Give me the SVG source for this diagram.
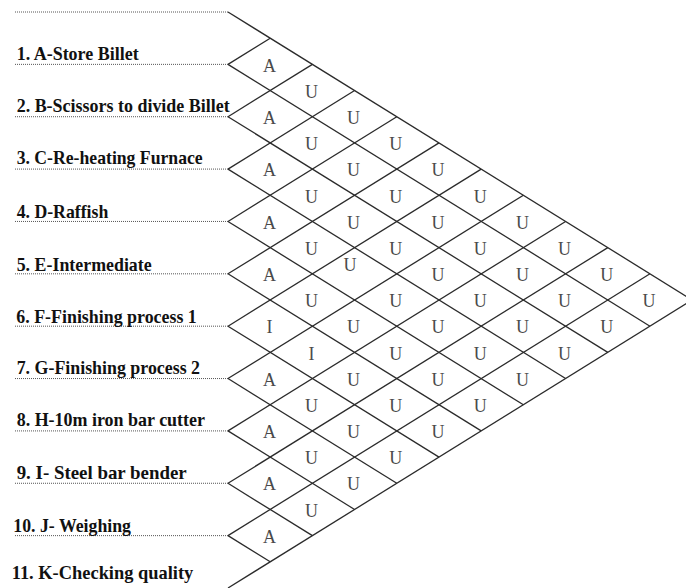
<svg xmlns="http://www.w3.org/2000/svg" width="686" height="588" viewBox="0 0 686 588">
  <style>
    .grid line { stroke: #2b2b2b; stroke-width: 1.3; fill: none; }
    .lead { stroke: #555; stroke-width: 1; stroke-dasharray: 1 1; }
    .dept { font-family: "Liberation Serif", "Times New Roman", serif; font-weight: bold; font-size: 19.5px; fill: #111111; }
    .rel { font-family: "Liberation Serif", "Times New Roman", serif; font-size: 18px; fill: #4a4a4a; text-anchor: middle; }
  </style>
  <rect width="686" height="588" fill="#ffffff"/>

  <!-- dotted leader lines from each label to the chart's left edge -->
  <g id="leaders">
    <line class="lead" x1="15" y1="12" x2="228" y2="12"/>
    <line class="lead" x1="15" y1="64.36" x2="228" y2="64.36"/>
    <line class="lead" x1="15" y1="116.73" x2="228" y2="116.73"/>
    <line class="lead" x1="15" y1="169.09" x2="228" y2="169.09"/>
    <line class="lead" x1="15" y1="221.45" x2="228" y2="221.45"/>
    <line class="lead" x1="15" y1="273.82" x2="228" y2="273.82"/>
    <line class="lead" x1="15" y1="326.18" x2="228" y2="326.18"/>
    <line class="lead" x1="15" y1="378.55" x2="228" y2="378.55"/>
    <line class="lead" x1="15" y1="430.91" x2="228" y2="430.91"/>
    <line class="lead" x1="15" y1="483.27" x2="228" y2="483.27"/>
    <line class="lead" x1="15" y1="535.64" x2="228" y2="535.64"/>
  </g>

  <!-- department labels (condensed bold serif) -->
  <g id="dept-A"><text class="dept" x="16.7" y="59.5" textLength="122" lengthAdjust="spacingAndGlyphs">1. A-Store Billet</text></g>
  <g id="dept-B"><text class="dept" x="16.7" y="112" textLength="213" lengthAdjust="spacingAndGlyphs">2. B-Scissors to divide Billet</text></g>
  <g id="dept-C"><text class="dept" x="16.7" y="164" textLength="186" lengthAdjust="spacingAndGlyphs">3. C-Re-heating Furnace</text></g>
  <g id="dept-D"><text class="dept" x="16.7" y="218" textLength="91.6" lengthAdjust="spacingAndGlyphs">4. D-Raffish</text></g>
  <g id="dept-E"><text class="dept" x="16.7" y="270.5" textLength="135" lengthAdjust="spacingAndGlyphs">5. E-Intermediate</text></g>
  <g id="dept-F"><text class="dept" x="16.3" y="323" textLength="180.5" lengthAdjust="spacingAndGlyphs">6. F-Finishing process 1</text></g>
  <g id="dept-G"><text class="dept" x="16.7" y="373.5" textLength="183.3" lengthAdjust="spacingAndGlyphs">7. G-Finishing process 2</text></g>
  <g id="dept-H"><text class="dept" x="16.7" y="426" textLength="188.3" lengthAdjust="spacingAndGlyphs">8. H-10m iron bar cutter</text></g>
  <g id="dept-I"><text class="dept" x="16.7" y="479" textLength="170" lengthAdjust="spacingAndGlyphs">9. I- Steel bar bender</text></g>
  <g id="dept-J"><text class="dept" x="13.3" y="531.5" textLength="117.7" lengthAdjust="spacingAndGlyphs">10. J- Weighing</text></g>
  <g id="dept-K"><text class="dept" x="11.7" y="579" textLength="181.6" lengthAdjust="spacingAndGlyphs">11. K-Checking quality</text></g>

  <!-- diamond grid: one down-right and one up-right line per edge point -->
  <g id="connectors" class="grid">
    <line x1="228" y1="12" x2="692.2" y2="300"/>
    <line x1="228" y1="64.36" x2="650" y2="326.18"/>
    <line x1="228" y1="116.73" x2="607.8" y2="352.36"/>
    <line x1="228" y1="169.09" x2="565.6" y2="378.55"/>
    <line x1="228" y1="221.45" x2="523.4" y2="404.73"/>
    <line x1="228" y1="273.82" x2="481.2" y2="430.91"/>
    <line x1="228" y1="326.18" x2="439" y2="457.09"/>
    <line x1="228" y1="378.55" x2="396.8" y2="483.27"/>
    <line x1="228" y1="430.91" x2="354.6" y2="509.45"/>
    <line x1="228" y1="483.27" x2="312.4" y2="535.64"/>
    <line x1="228" y1="535.64" x2="270.2" y2="561.82"/>

    <line x1="228" y1="64.36" x2="270.2" y2="38.18"/>
    <line x1="228" y1="116.73" x2="312.4" y2="64.36"/>
    <line x1="228" y1="169.09" x2="354.6" y2="90.55"/>
    <line x1="228" y1="221.45" x2="396.8" y2="116.73"/>
    <line x1="228" y1="273.82" x2="439" y2="142.91"/>
    <line x1="228" y1="326.18" x2="481.2" y2="169.09"/>
    <line x1="228" y1="378.55" x2="523.4" y2="195.27"/>
    <line x1="228" y1="430.91" x2="565.6" y2="221.45"/>
    <line x1="228" y1="483.27" x2="607.8" y2="247.64"/>
    <line x1="228" y1="535.64" x2="650" y2="273.82"/>
    <line x1="228" y1="588" x2="692.2" y2="300"/>
  </g>

  <!-- relationship codes; cell (a,b) sits at x = 228 + 42.2*(b-a), y = 38.18 + 26.18*(a+b-2) -->
  <g id="cells" class="rel">
    <!-- adjacent pairs -->
    <g id="cell-A-B"><text x="269.4" y="71.6">A</text></g>
    <g id="cell-B-C"><text x="269.4" y="123.9">A</text></g>
    <g id="cell-C-D"><text x="269.4" y="176.3">A</text></g>
    <g id="cell-D-E"><text x="269.4" y="228.6">A</text></g>
    <g id="cell-E-F"><text x="269.4" y="281">A</text></g>
    <g id="cell-F-G"><text x="269.4" y="333.4">I</text></g>
    <g id="cell-G-H"><text x="269.4" y="385.7">A</text></g>
    <g id="cell-H-I"><text x="269.4" y="438.1">A</text></g>
    <g id="cell-I-J"><text x="269.4" y="490.4">A</text></g>
    <g id="cell-J-K"><text x="269.4" y="542.8">A</text></g>
    <!-- two apart -->
    <g id="cell-A-C"><text x="311.4" y="97.8">U</text></g>
    <g id="cell-B-D"><text x="311.4" y="150.1">U</text></g>
    <g id="cell-C-E"><text x="311.4" y="202.5">U</text></g>
    <g id="cell-D-F"><text x="311.4" y="254.8">U</text></g>
    <g id="cell-E-G"><text x="311.4" y="307.2">U</text></g>
    <g id="cell-F-H"><text x="311.4" y="359.6">I</text></g>
    <g id="cell-G-I"><text x="311.4" y="411.9">U</text></g>
    <g id="cell-H-J"><text x="311.4" y="464.3">U</text></g>
    <g id="cell-I-K"><text x="311.4" y="516.6">U</text></g>
    <!-- three apart -->
    <g id="cell-A-D"><text x="353.6" y="123.9">U</text></g>
    <g id="cell-B-E"><text x="353.6" y="176.3">U</text></g>
    <g id="cell-C-F"><text x="353.6" y="228.6">U</text></g>
    <g id="cell-D-G"><text x="350" y="271.2">U</text></g>
    <g id="cell-E-H"><text x="353.6" y="333.4">U</text></g>
    <g id="cell-F-I"><text x="353.6" y="385.7">U</text></g>
    <g id="cell-G-J"><text x="353.6" y="438.1">U</text></g>
    <g id="cell-H-K"><text x="353.6" y="490.4">U</text></g>
    <!-- four apart -->
    <g id="cell-A-E"><text x="395.8" y="150.1">U</text></g>
    <g id="cell-B-F"><text x="395.8" y="202.5">U</text></g>
    <g id="cell-C-G"><text x="395.8" y="254.8">U</text></g>
    <g id="cell-D-H"><text x="395.8" y="307.2">U</text></g>
    <g id="cell-E-I"><text x="395.8" y="359.6">U</text></g>
    <g id="cell-F-J"><text x="395.8" y="411.9">U</text></g>
    <g id="cell-G-K"><text x="395.8" y="464.3">U</text></g>
    <!-- five apart -->
    <g id="cell-A-F"><text x="438" y="176.3">U</text></g>
    <g id="cell-B-G"><text x="438" y="228.6">U</text></g>
    <g id="cell-C-H"><text x="438" y="281">U</text></g>
    <g id="cell-D-I"><text x="438" y="333.4">U</text></g>
    <g id="cell-E-J"><text x="438" y="385.7">U</text></g>
    <g id="cell-F-K"><text x="438" y="438.1">U</text></g>
    <!-- six apart -->
    <g id="cell-A-G"><text x="480.2" y="202.5">U</text></g>
    <g id="cell-B-H"><text x="480.2" y="254.8">U</text></g>
    <g id="cell-C-I"><text x="480.2" y="307.2">U</text></g>
    <g id="cell-D-J"><text x="480.2" y="359.6">U</text></g>
    <g id="cell-E-K"><text x="480.2" y="411.9">U</text></g>
    <!-- seven apart -->
    <g id="cell-A-H"><text x="522.4" y="228.6">U</text></g>
    <g id="cell-B-I"><text x="522.4" y="281">U</text></g>
    <g id="cell-C-J"><text x="522.4" y="333.4">U</text></g>
    <g id="cell-D-K"><text x="522.4" y="385.7">U</text></g>
    <!-- eight apart -->
    <g id="cell-A-I"><text x="564.6" y="254.8">U</text></g>
    <g id="cell-B-J"><text x="564.6" y="307.2">U</text></g>
    <g id="cell-C-K"><text x="564.6" y="359.6">U</text></g>
    <!-- nine apart -->
    <g id="cell-A-J"><text x="606.8" y="281">U</text></g>
    <g id="cell-B-K"><text x="606.8" y="333.4">U</text></g>
    <!-- ten apart -->
    <g id="cell-A-K"><text x="649" y="307.2">U</text></g>
  </g>
</svg>
